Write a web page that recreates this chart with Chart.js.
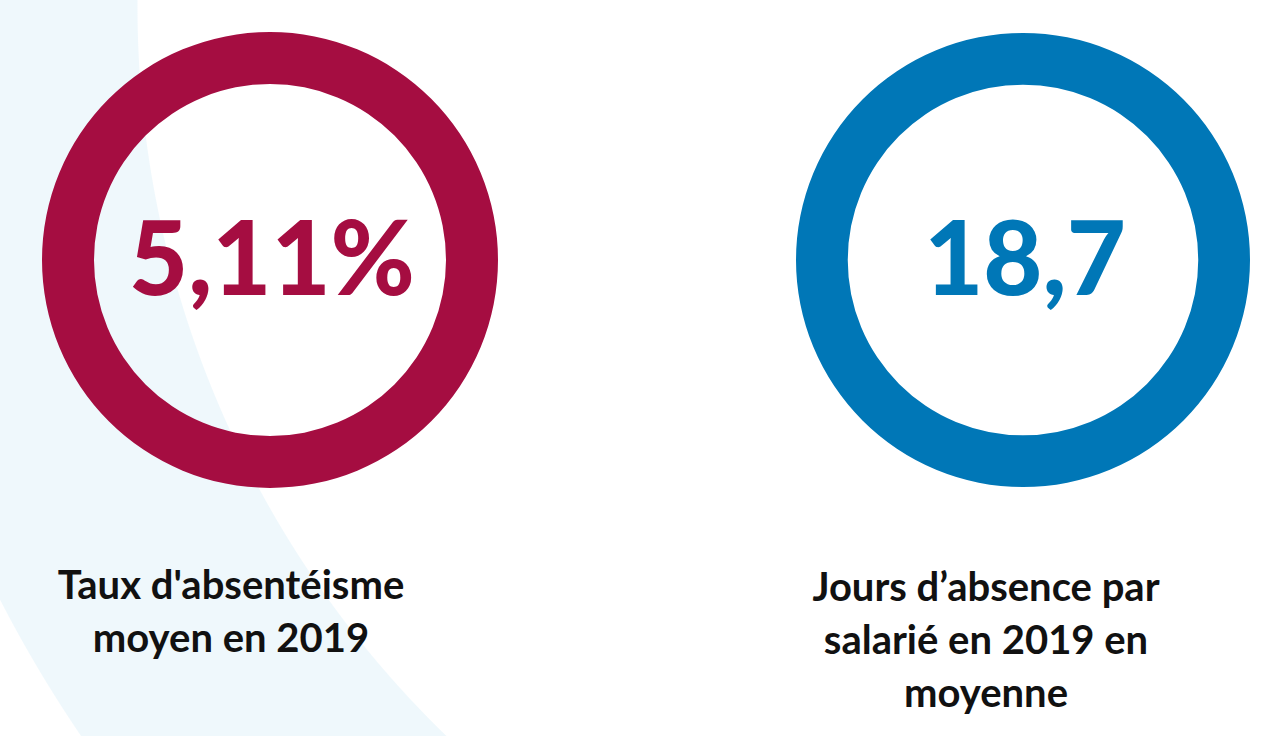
<!DOCTYPE html>
<html>
<head>
<meta charset="utf-8">
<script src="https://cdn.jsdelivr.net/npm/chart.js@4"></script>
<style>
  html, body { margin: 0; padding: 0; }
  body {
    width: 1268px; height: 736px; overflow: hidden; position: relative;
    background: radial-gradient(circle at 1152px 7px, #ffffff 1014px, #eff8fc 1015px, #eff8fc 1295px, #ffffff 1296px);
    font-family: Lato, sans-serif;
  }
  .ring { position: absolute; }
  .caption {
    position: absolute; width: 460px; text-align: center;
    font-weight: 700; font-size: 40px; line-height: 53px; color: #111;
    white-space: pre-line;
  }
</style>
</head>
<body>
<div class="ring" style="left:42px;top:32px;width:456px;height:456px"><canvas id="ring1"></canvas></div>
<div class="ring" style="left:796px;top:33px;width:454px;height:454px"><canvas id="ring2"></canvas></div>
<div class="caption" id="cap1" style="left:1px;top:558px"></div>
<div class="caption" id="cap2" style="left:756px;top:560px"></div>
<script>
// chart data
var captions = ["Taux d'absentéisme\nmoyen en 2019", "Jours d’absence par\nsalarié en 2019 en\nmoyenne"];
var values = [5.11, 18.7];
var valueLabels = ['5,11%', '18,7'];
var ringShare = [100, 100];
var colors = ['#a50d41', '#0077b7'];

var centerText = {
    id: 'centerText',
    afterDraw: function(chart) {
        var ctx = chart.ctx;
        var meta = chart.getDatasetMeta(0).data[0];
        ctx.save();
        ctx.fillStyle = chart.options.plugins.centerText.color;
        ctx.font = '900 102px Lato';
        ctx.textAlign = 'center';
        ctx.textBaseline = 'middle';
        ctx.fillText(chart.options.plugins.centerText.text, meta.x + 2, meta.y + 2);
        ctx.restore();
    }
};

function makeRing(id, i) {
    var ctx = document.getElementById(id).getContext('2d');
    return new Chart(ctx, {
        type: 'doughnut',
        data: {
            labels: [captions[i]],
            datasets: [{
                data: [ringShare[i]],
                backgroundColor: [colors[i]],
                borderWidth: 0,
                hoverOffset: 0
            }]
        },
        options: {
            responsive: true,
            maintainAspectRatio: false,
            animation: false,
            cutout: '77.2%',
            layout: { padding: 0 },
            plugins: {
                legend: { display: false },
                tooltip: { enabled: false },
                centerText: { text: valueLabels[i], color: colors[i] }
            }
        },
        plugins: [centerText]
    });
}

makeRing('ring1', 0);
makeRing('ring2', 1);
document.getElementById('cap1').textContent = captions[0];
document.getElementById('cap2').textContent = captions[1];
</script>
</body>
</html>
